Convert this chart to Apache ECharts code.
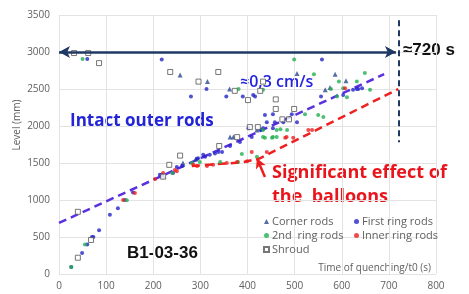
<!DOCTYPE html>
<html>
<head>
<meta charset="utf-8">
<script src="https://cdn.jsdelivr.net/npm/echarts@6/dist/echarts.min.js"></script>
<style>
  html, body { margin: 0; padding: 0; background: #fff; }
  #chart { width: 469px; height: 294px; }
</style>
</head>
<body>
<div id="chart"></div>
<script>
// axis ticks
const xTicks = [0, 100, 200, 300, 400, 500, 600, 700, 800];
const yTicks = [0, 500, 1000, 1500, 2000, 2500, 3000, 3500];

// measured points [time (s), level (mm)]
const cornerRods = [
  [222, 1320], [263, 1500], [290, 1555], [257, 2690], [315, 2600], [362, 2500],
  [363, 1850], [370, 1850], [420, 1945], [505, 2710], [565, 2490], [575, 2520],
  [586, 2700], [609, 2610]
];
const firstRingRods = [
  [26, 95], [49, 285], [60, 400], [70, 500], [73, 500], [85, 590], [108, 800],
  [125, 890], [140, 1000], [157, 1100], [214, 1340], [218, 1340], [242, 1365],
  [250, 1445], [261, 1460], [293, 1555], [295, 1565], [306, 1610], [310, 1585],
  [320, 1610], [331, 1630], [338, 1650], [346, 1650], [363, 1730], [384, 1785],
  [409, 1850], [427, 1945], [402, 1970], [433, 1970], [454, 1970], [441, 2050],
  [458, 2050], [476, 2050], [505, 2050], [437, 2150], [454, 2160], [494, 2160],
  [60, 2905], [218, 2900], [313, 2500], [280, 2400], [355, 2400], [390, 2400],
  [412, 2420], [416, 2400], [556, 2400], [558, 2900], [603, 2420], [624, 2490],
  [632, 2500], [635, 2500], [643, 2510]
];
const secondRingRods = [
  [26, 95], [55, 400], [144, 995], [240, 1365], [282, 1500], [299, 1515],
  [342, 1515], [380, 1515], [388, 1620], [420, 1585], [433, 1850], [437, 1840],
  [452, 1840], [454, 1850], [462, 1850], [433, 1945], [462, 1945], [470, 1955],
  [484, 1945], [522, 2160], [550, 2150], [561, 2120], [50, 2905], [381, 2500],
  [433, 2490], [499, 2900], [541, 2700], [577, 2500], [590, 2400], [594, 2600],
  [603, 2510], [611, 2390], [632, 2600], [649, 2715], [660, 2490]
];
const innerRingRods = [
  [136, 1000], [161, 1095], [204, 1285], [221, 1365], [246, 1405], [250, 1390],
  [285, 1475], [293, 1460], [314, 1460], [327, 1475], [356, 1500], [378, 1515],
  [399, 1525], [409, 1650], [441, 1650], [480, 1840], [483, 1850], [497, 1840],
  [529, 1945], [537, 1945], [607, 2510]
];
const shroud = [
  [32, 2986], [62, 2986], [85, 2850], [236, 2730], [296, 2600], [338, 2730],
  [373, 2475], [340, 1730], [378, 1850], [401, 2350], [427, 2475], [433, 2600],
  [460, 2360], [460, 2230], [499, 2230], [474, 2090], [488, 2090], [405, 1985],
  [422, 1985], [40, 220], [68, 460], [40, 840], [221, 1315], [234, 1475], [257, 1600]
];

// fitted / guide lines
const trendIntact = [[0, 690], [690, 2700]];
const trendBalloons = [[282, 1460], [390, 1510], [425, 1560], [720, 2500]];
const spanArrow = [[0, 3000], [715, 3000]];
const spanMark = [[720, 3430], [720, 1780]];
const balloonArrow = [[437, 1310], [420, 1565]];

const chart = echarts.init(document.getElementById('chart'));
const gray = '#606060';
const navy = '#1F3864';

const legendText = { color: gray, fontSize: 11, fontFamily: 'Open Sans', padding: [0, 0, 0, -2] };

const options = {
  animation: false,
  grid: { left: 59, right: 33, top: 15, bottom: 20 },
  xAxis: {
    type: 'value', min: xTicks[0], max: xTicks[xTicks.length - 1], interval: 100,
    axisLine: { show: false }, axisTick: { show: false },
    axisLabel: { color: gray, fontSize: 10, fontFamily: 'Open Sans', margin: 7, formatter: v => String(v) },
    splitLine: { lineStyle: { color: '#E3E3E3' } }
  },
  yAxis: {
    type: 'value', min: yTicks[0], max: yTicks[yTicks.length - 1], interval: 500,
    axisLine: { show: false }, axisTick: { show: false },
    axisLabel: { color: gray, fontSize: 10, fontFamily: 'Open Sans', margin: 9, formatter: v => String(v) },
    splitLine: { lineStyle: { color: '#E3E3E3' } }
  },
  legend: [
    {
      orient: 'vertical', left: 258, top: 211, itemGap: 3, itemWidth: 5, itemHeight: 5,
      textStyle: legendText,
      data: ['Corner rods', '2nd  ring rods', 'Shroud']
    },
    {
      orient: 'vertical', left: 349, top: 211, itemGap: 3, itemWidth: 5, itemHeight: 5,
      textStyle: legendText,
      data: ['First ring rods', 'Inner ring rods']
    }
  ],
  series: [
    {
      name: 'trend intact', type: 'line', data: trendIntact, symbol: 'none', z: 1,
      lineStyle: { color: '#5A30E0', width: 2.5, type: [8, 5] }
    },
    {
      name: 'trend balloons', type: 'line', data: trendBalloons, symbol: 'none', z: 1,
      lineStyle: { color: '#EE2020', width: 2.5, type: [8, 5] }
    },
    {
      name: 'Corner rods', type: 'scatter', symbol: 'triangle', symbolSize: 5,
      itemStyle: { color: '#2C4A8E' }, data: cornerRods
    },
    {
      name: 'First ring rods', type: 'scatter', symbol: 'circle', symbolSize: 4,
      itemStyle: { color: '#2424C8' }, data: firstRingRods
    },
    {
      name: '2nd  ring rods', type: 'scatter', symbol: 'circle', symbolSize: 4,
      itemStyle: { color: '#22B050' }, data: secondRingRods
    },
    {
      name: 'Inner ring rods', type: 'scatter', symbol: 'circle', symbolSize: 4,
      itemStyle: { color: '#EE1E1E' }, data: innerRingRods
    },
    {
      name: 'Shroud', type: 'scatter', symbol: 'rect', symbolSize: 5,
      itemStyle: { color: '#fff', borderColor: '#555', borderWidth: 1 }, data: shroud
    },
    {
      // guide arrows drawn as mark lines
      name: 'guides', type: 'line', data: [], z: 5,
      markLine: {
        silent: true, animation: false, label: { show: false },
        data: [
          [
            { coord: spanArrow[0], symbol: 'arrow', symbolSize: [9, 11], lineStyle: { color: navy, width: 2.5, type: 'solid' } },
            { coord: spanArrow[1], symbol: 'arrow', symbolSize: [9, 11] }
          ],
          [
            { coord: spanMark[0], symbol: 'none', lineStyle: { color: navy, width: 2, type: [6, 4] } },
            { coord: spanMark[1], symbol: 'none' }
          ],
          [
            { coord: balloonArrow[0], symbol: 'none', lineStyle: { color: '#EE1E1E', width: 2.5, type: 'solid' } },
            { coord: balloonArrow[1], symbol: 'arrow', symbolSize: [8, 10] }
          ]
        ]
      }
    }
  ],
  graphic: [
    {
      type: 'text', x: 17, y: 125, rotation: Math.PI / 2, originX: 0, originY: 0,
      style: { text: 'Level (mm)', fill: gray, font: '10px "Open Sans"', align: 'center', verticalAlign: 'middle' }
    },
    {
      type: 'text', x: 431, y: 268,
      style: { text: 'Time of quenching/t0 (s)', fill: gray, font: '10px "Open Sans"', align: 'right', verticalAlign: 'middle' }
    },
    {
      type: 'text', x: 403, y: 50,
      style: { text: '≈720 s', fill: '#111', font: 'bold 17px "Liberation Sans"', verticalAlign: 'middle' }
    },
    {
      type: 'text', x: 240, y: 82,
      style: { text: '≈0,3 cm/s', fill: '#2323E0', font: '600 16px "Open Sans"', verticalAlign: 'middle' }
    },
    {
      type: 'text', x: 70, y: 121,
      style: { text: 'Intact outer rods', fill: '#2323D8', font: 'bold 17px "Open Sans"', verticalAlign: 'middle' }
    },
    {
      type: 'text', x: 272, y: 173,
      style: { text: 'Significant effect of', fill: '#E8161C', font: 'bold 18px "Open Sans"', verticalAlign: 'middle' }
    },
    {
      type: 'text', x: 272, y: 197,
      style: { text: 'the  balloons', fill: '#E8161C', font: 'bold 18px "Open Sans"', verticalAlign: 'middle' }
    },
    {
      type: 'text', x: 127, y: 253,
      style: { text: 'B1-03-36', fill: '#111', font: 'bold 17px "Liberation Sans"', verticalAlign: 'middle' }
    }
  ]
};

chart.setOption(options);
</script>
</body>
</html>
